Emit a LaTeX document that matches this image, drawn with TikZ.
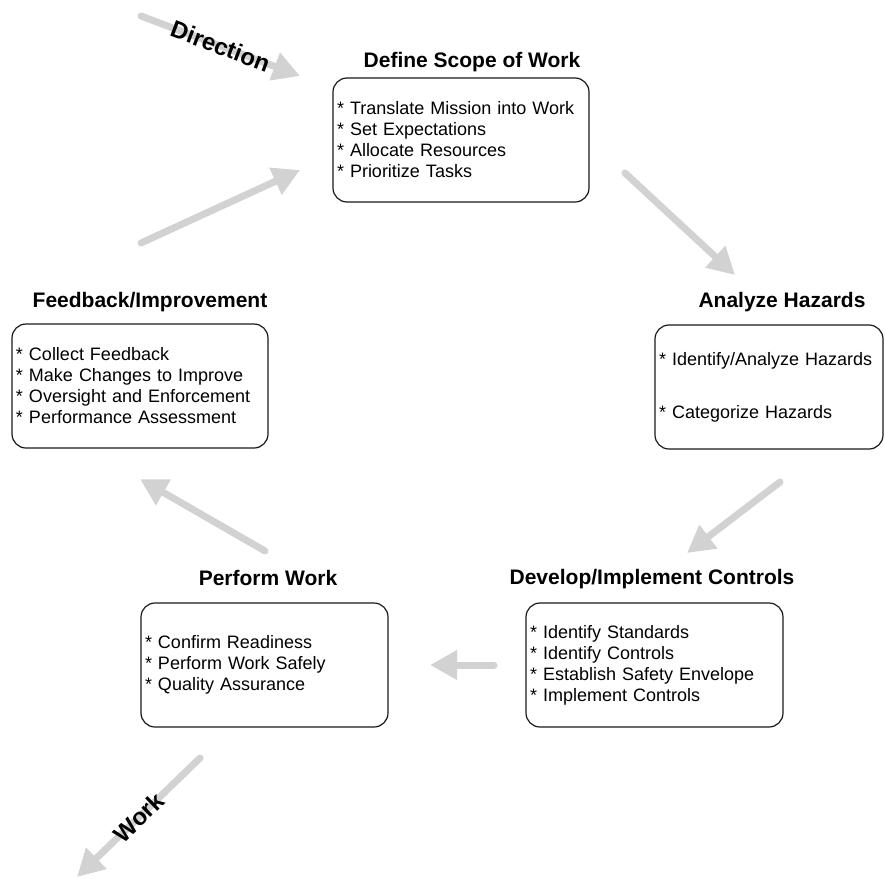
\documentclass[tikz,border=0pt]{standalone}
\usepackage{fontspec}
\setmainfont{Liberation Sans}
\usetikzlibrary{positioning,arrows.meta}
\definecolor{cycGray}{RGB}{210,210,210}
\definecolor{cycLine}{RGB}{25,25,25}

\begin{document}
\begin{tikzpicture}[x=1pt, y=-1pt,
  box/.style={draw=cycLine, line width=1.2pt, rounded corners=14pt, align=left,
              font=\fontsize{18}{21}\selectfont, minimum height=124pt,
              inner xsep=4pt, inner ysep=0pt},
  ttl/.style={font=\fontsize{21}{24}\selectfont\bfseries, inner sep=0pt,
              text height=15pt, text depth=5pt},
  arr/.style={-{Triangle[length=27pt,width=28pt]}, line width=7pt, cycGray,
              line cap=round},
  lbl/.style={font=\fontsize{24}{24}\selectfont\bfseries, sloped, text=black,
              inner sep=0pt}]
  \useasboundingbox (0,0) rectangle (885,878);

  % the five steps
  \node[box, text width=248pt] (scope) at (461,140)
    {* Translate Mission into Work\\{}* Set Expectations\\{}* Allocate Resources\\{}* Prioritize Tasks};
  \node[box, text width=220pt] (hazards) at (769,387)
    {* Identify/Analyze Hazards\\[32pt]{}* Categorize Hazards};
  \node[box, text width=249pt] (controls) at (654.5,665)
    {* Identify Standards\\{}* Identify Controls\\{}* Establish Safety Envelope\\{}* Implement Controls};
  \node[box, text width=239pt] (perform) at (264.5,665)
    {* Confirm Readiness\\{}* Perform Work Safely\\{}* Quality Assurance};
  \node[box, text width=248pt] (feedback) at (140,386)
    {* Collect Feedback\\{}* Make Changes to Improve\\{}* Oversight and Enforcement\\{}* Performance Assessment};

  \node[ttl] (scopeT) at (472,62) {Define Scope of Work};
  \node[ttl] (hazardsT) at (782,302) {Analyze Hazards};
  \node[ttl] (controlsT) at (652,579) {Develop/Implement Controls};
  \node[ttl] (performT) at (268,580) {Perform Work};
  \node[ttl] (feedbackT) at (150,302) {Feedback/Improvement};

  % arrow ends
  \coordinate (dirA) at (141,16);
  \coordinate (dirB) at (300,76);
  \coordinate (c1a) at (625,173);
  \coordinate (c1b) at (735,275);
  \coordinate (c2a) at (780,482);
  \coordinate (c2b) at (687,553);
  \coordinate (c3a) at (494,665);
  \coordinate (c3b) at (430,665);
  \coordinate (c4a) at (265,551);
  \coordinate (c4b) at (140,479);
  \coordinate (c5a) at (141,243);
  \coordinate (c5b) at (300,170);
  \coordinate (wrkA) at (200,758);
  \coordinate (wrkB) at (77,877);

  \draw[arr] (dirA) -- node[lbl] {Direction} (dirB);
  \draw[arr] (c1a) -- (c1b);
  \draw[arr] (c2a) -- (c2b);
  \draw[arr] (c3a) -- (c3b);
  \draw[arr] (c4a) -- (c4b);
  \draw[arr] (c5a) -- (c5b);
  \draw[arr] (wrkA) -- node[lbl] {Work} (wrkB);
\end{tikzpicture}
\end{document}
